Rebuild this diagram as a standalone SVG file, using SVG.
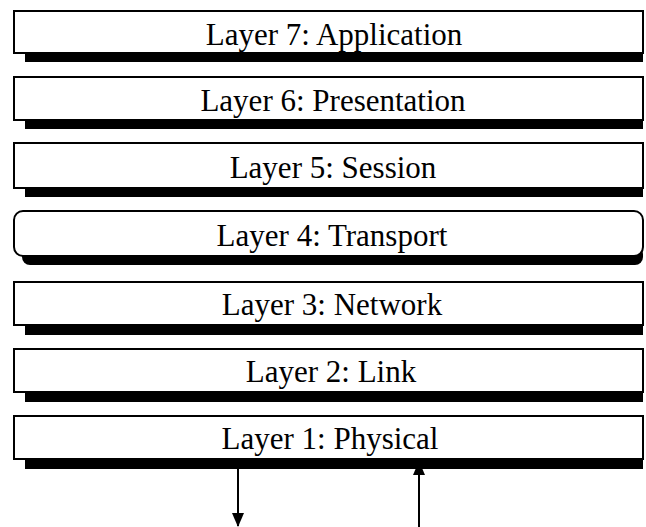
<svg xmlns="http://www.w3.org/2000/svg" width="646" height="527" viewBox="0 0 646 527">
<defs>
<style>
.box{fill:#fff;stroke:#000;stroke-width:2}
.sh{fill:#000}
.lbl{font-family:"Liberation Serif","Times New Roman",serif;font-size:31px;fill:#000;text-anchor:middle}
.arr{stroke:#000;stroke-width:2;fill:none}
</style>
<marker id="ah" viewBox="0 0 14 12" refX="13" refY="6" markerWidth="14" markerHeight="12" markerUnits="userSpaceOnUse" orient="auto">
<path d="M0,0 L14,6 L0,12 z" fill="#000"/>
</marker>
</defs>
<rect width="646" height="527" fill="#fff"/>
<g id="layer7">
<rect class="sh" x="25" y="53" width="618" height="9"/>
<rect class="box" x="14" y="11" width="629" height="42"/>
<text class="lbl" x="334" y="45">Layer 7: Application</text>
</g>
<g id="layer6">
<rect class="sh" x="25" y="120" width="618" height="9"/>
<rect class="box" x="14" y="77" width="629" height="43"/>
<text class="lbl" x="333" y="111">Layer 6: Presentation</text>
</g>
<g id="layer5">
<rect class="sh" x="25" y="188" width="618" height="9"/>
<rect class="box" x="14" y="143" width="629" height="45"/>
<text class="lbl" x="333" y="178">Layer 5: Session</text>
</g>
<g id="layer4">
<rect class="sh" x="22" y="246" width="621" height="19" rx="8"/>
<rect class="box" x="14" y="211" width="629" height="45" rx="9"/>
<text class="lbl" x="332" y="246">Layer 4: Transport</text>
</g>
<g id="layer3">
<rect class="sh" x="25" y="325" width="618" height="10"/>
<rect class="box" x="14" y="282" width="629" height="43"/>
<text class="lbl" x="332" y="315">Layer 3: Network</text>
</g>
<g id="layer2">
<rect class="sh" x="25" y="392" width="618" height="10"/>
<rect class="box" x="14" y="349" width="629" height="43"/>
<text class="lbl" x="331" y="382">Layer 2: Link</text>
</g>
<g id="layer1">
<rect class="sh" x="25" y="459" width="618" height="10"/>
<rect class="box" x="14" y="416" width="629" height="43"/>
<text class="lbl" x="330" y="449">Layer 1: Physical</text>
</g>
<g id="connectors">
<line class="arr" x1="238" y1="469" x2="238" y2="526" marker-end="url(#ah)"/>
<line class="arr" x1="419" y1="527" x2="419" y2="462" marker-end="url(#ah)"/>
</g>
</svg>
